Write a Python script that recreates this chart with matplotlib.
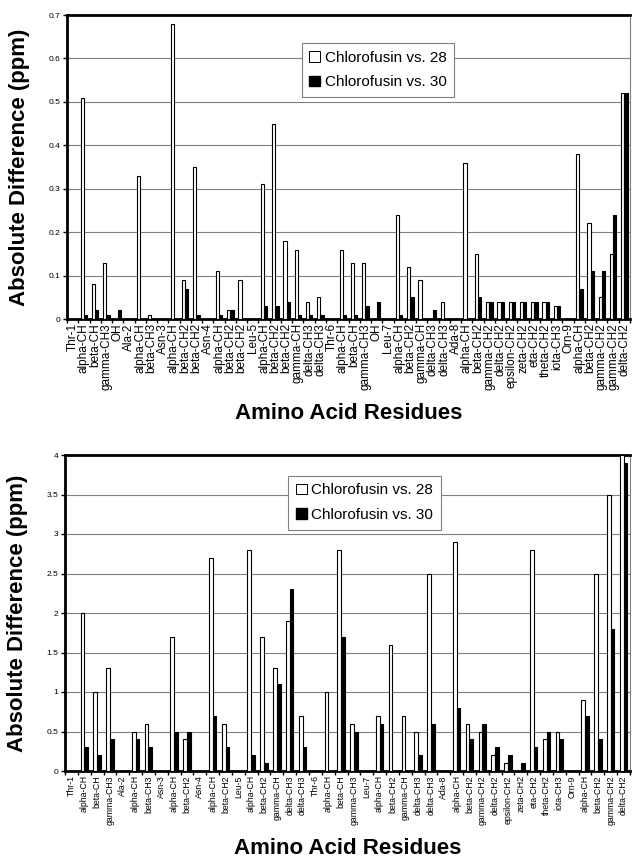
import matplotlib
matplotlib.use('Agg')
import matplotlib.pyplot as plt
import numpy as np
from matplotlib.patches import Patch

plt.rcParams['font.family'] = ['Liberation Sans', 'DejaVu Sans']

# ---- top chart data ----
top_labels = ['Thr-1', 'alpha-CH', 'beta-CH', 'gamma-CH3', 'OH', 'Ala-2', 'alpha-CH', 'beta-CH3',
              'Asn-3', 'alpha-CH', 'beta-CH2', 'beta-CH2', 'Asn-4', 'alpha-CH', 'beta-CH2', 'beta-CH2',
              'Leu-5', 'alpha-CH', 'beta-CH2', 'beta-CH2', 'gamma-CH', 'delta-CH3', 'delta-CH3',
              'Thr-6', 'alpha-CH', 'beta-CH', 'gamma-CH3', 'OH', 'Leu-7', 'alpha-CH', 'beta-CH2',
              'gamma-CH', 'delta-CH3', 'delta-CH3', 'Ada-8', 'alpha-CH', 'beta-CH2', 'gamma-CH2',
              'delta-CH2', 'epsilon-CH2', 'zeta-CH2', 'eta-CH2', 'theta-CH2', 'iota-CH3', 'Orn-9',
              'alpha-CH', 'beta-CH2', 'gamma-CH2', 'gamma-CH2', 'delta-CH2']
top_vs28 = [0, 0.51, 0.08, 0.13, 0, 0, 0.33, 0.01, 0, 0.68, 0.09, 0.35, 0, 0.11, 0.02, 0.09,
            0, 0.31, 0.45, 0.18, 0.16, 0.04, 0.05, 0, 0.16, 0.13, 0.13, 0, 0, 0.24, 0.12,
            0.09, 0, 0.04, 0, 0.36, 0.15, 0.04, 0.04, 0.04, 0.04, 0.04, 0.04, 0.03, 0,
            0.38, 0.22, 0.05, 0.15, 0.52]
top_vs30 = [0, 0.01, 0.02, 0.01, 0.02, 0, 0, 0, 0, 0, 0.07, 0.01, 0, 0.01, 0.02, 0,
            0, 0.03, 0.03, 0.04, 0.01, 0.01, 0.01, 0, 0.01, 0.01, 0.03, 0.04, 0, 0.01, 0.05,
            0, 0.02, 0, 0, 0, 0.05, 0.04, 0.04, 0.04, 0.04, 0.04, 0.04, 0.03, 0,
            0.07, 0.11, 0.11, 0.24, 0.52]
top_yticks = [0, 0.1, 0.2, 0.3, 0.4, 0.5, 0.6, 0.7]
top_yticklabels = ['0', '0.1', '0.2', '0.3', '0.4', '0.5', '0.6', '0.7']

# ---- bottom chart data ----
bot_labels = ['Thr-1', 'alpha-CH', 'beta-CH', 'gamma-CH3', 'Ala-2', 'alpha-CH', 'beta-CH3', 'Asn-3',
              'alpha-CH', 'beta-CH2', 'Asn-4', 'alpha-CH', 'beta-CH2', 'Leu-5', 'alpha-CH', 'beta-CH2',
              'gamma-CH', 'delta-CH3', 'delta-CH3', 'Thr-6', 'alpha-CH', 'beta-CH', 'gamma-CH3',
              'Leu-7', 'alpha-CH', 'beta-CH2', 'gamma-CH', 'delta-CH3', 'delta-CH3', 'Ada-8',
              'alpha-CH', 'beta-CH2', 'gamma-CH2', 'delta-CH2', 'epsilon-CH2', 'zeta-CH2', 'eta-CH2',
              'theta-CH2', 'iota-CH3', 'Orn-9', 'alpha-CH', 'beta-CH2', 'gamma-CH2', 'delta-CH2']
bot_vs28 = [0, 2.0, 1.0, 1.3, 0, 0.5, 0.6, 0, 1.7, 0.4, 0, 2.7, 0.6, 0, 2.8, 1.7,
            1.3, 1.9, 0.7, 0, 1.0, 2.8, 0.6, 0, 0.7, 1.6, 0.7, 0.5, 2.5, 0,
            2.9, 0.6, 0.5, 0.2, 0.1, 0, 2.8, 0.4, 0.5, 0, 0.9, 2.5, 3.5, 4.0]
bot_vs30 = [0, 0.3, 0.2, 0.4, 0, 0.4, 0.3, 0, 0.5, 0.5, 0, 0.7, 0.3, 0, 0.2, 0.1,
            1.1, 2.3, 0.3, 0, 0, 1.7, 0.5, 0, 0.6, 0, 0, 0.2, 0.6, 0,
            0.8, 0.4, 0.6, 0.3, 0.2, 0.1, 0.3, 0.5, 0.4, 0, 0.7, 0.4, 1.8, 3.9]
bot_yticks = [0, 0.5, 1, 1.5, 2, 2.5, 3, 3.5, 4]
bot_yticklabels = ['0', '0.5', '1', '1.5', '2', '2.5', '3', '3.5', '4']

series_names = ['Chlorofusin vs. 28', 'Chlorofusin vs. 30']

fig = plt.figure(figsize=(6.33, 8.64), dpi=100)


def draw_panel(rect, labels, v28, v30, yticks, yticklabels, xfont, leg_anchor, ylab_x, xlab_y):
    ax = fig.add_axes(rect)
    n = len(labels)
    x = np.arange(n)
    w = 0.29
    ax.bar(x - 0.145, v28, width=w, color='white', edgecolor='black', linewidth=0.8, zorder=3)
    ax.bar(x + 0.145, v30, width=w, color='black', edgecolor='black', linewidth=0.8, zorder=3)
    ax.set_xlim(-0.5, n - 0.5)
    ax.set_ylim(yticks[0], yticks[-1])
    ax.set_yticks(yticks)
    ax.set_yticklabels(yticklabels, fontsize=6)
    ax.yaxis.grid(True, color='#808080', linewidth=0.8, zorder=0)
    ax.set_axisbelow(True)
    ax.set_xticks(x)
    ax.set_xticklabels(labels, rotation=90, fontsize=xfont, va='top', ha='center')
    ax.set_xticks(np.arange(n + 1) - 0.5, minor=True)
    ax.tick_params(axis='x', which='major', length=0, pad=3)
    ax.tick_params(axis='x', which='minor', length=3, width=1, direction='out')
    ax.tick_params(axis='y', length=3, width=1, direction='out', pad=2)
    for s in ['left', 'top', 'bottom']:
        ax.spines[s].set_linewidth(2)
        ax.spines[s].set_color('black')
    ax.spines['right'].set_linewidth(0.8)
    ax.spines['right'].set_color('#808080')
    handles = [Patch(facecolor='white', edgecolor='black', linewidth=0.7),
               Patch(facecolor='black', edgecolor='black')]
    leg = ax.legend(handles, series_names, loc='upper left', bbox_to_anchor=leg_anchor,
                    borderaxespad=0, fontsize=11, frameon=True, fancybox=False,
                    handlelength=0.7, handleheight=0.7, handletextpad=0.3, borderpad=0.5,
                    labelspacing=0.7, framealpha=1)
    leg.get_frame().set_edgecolor('#808080')
    leg.get_frame().set_linewidth(0.8)
    y0 = rect[1] + rect[3] / 2
    fig.text(ylab_x, y0, 'Absolute Difference (ppm)', rotation=90, fontsize=16,
             fontweight='bold', ha='center', va='center')
    fig.text(rect[0] + rect[2] / 2, xlab_y, 'Amino Acid Residues', fontsize=16,
             fontweight='bold', ha='center', va='center')
    return ax


draw_panel([67 / 633, 1 - 319 / 864, 563 / 633, 304 / 864], top_labels, top_vs28, top_vs30,
           top_yticks, top_yticklabels, 8.5, (0.417, 0.908), 20 / 633, 1 - 413 / 864)
draw_panel([65 / 633, 1 - 771 / 864, 565 / 633, 316 / 864], bot_labels, bot_vs28, bot_vs30,
           bot_yticks, bot_yticklabels, 6.3, (0.395, 0.934), 18 / 633, 1 - 848 / 864)

plt.savefig('out.png', dpi=100)
